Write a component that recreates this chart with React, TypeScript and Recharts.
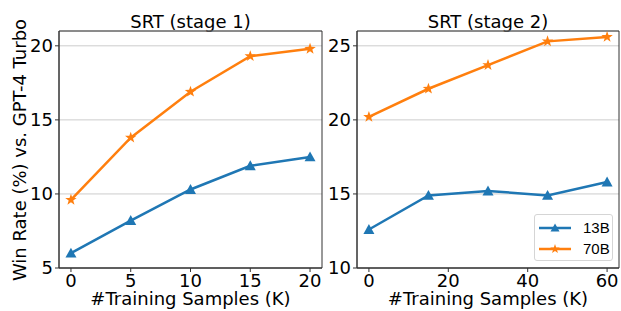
import {
  LineChart,
  Line,
  XAxis,
  YAxis,
  CartesianGrid,
  ReferenceArea,
  Legend,
  Label,
} from "recharts";

const stage1Samples = [0, 5, 10, 15, 20];
const stage1Win13B = [6.0, 8.2, 10.3, 11.9, 12.5];
const stage1Win70B = [9.6, 13.8, 16.9, 19.3, 19.8];

const stage2Samples = [0, 15, 30, 45, 60];
const stage2Win13B = [12.6, 14.9, 15.2, 14.9, 15.8];
const stage2Win70B = [20.2, 22.1, 23.7, 25.3, 25.6];

const stage1XTicks = [0, 5, 10, 15, 20];
const stage1YTicks = [5, 10, 15, 20];
const stage2XTicks = [0, 20, 40, 60];
const stage2YTicks = [10, 15, 20, 25];

const seriesNames = ["13B", "70B"];

const stage1Data = stage1Samples.map((k, i) => ({
  k,
  b13: stage1Win13B[i],
  b70: stage1Win70B[i],
}));
const stage2Data = stage2Samples.map((k, i) => ({
  k,
  b13: stage2Win13B[i],
  b70: stage2Win70B[i],
}));

const BLUE = "#1f77b4";
const ORANGE = "#ff7f0e";
const FONT = "'DejaVu Sans', sans-serif";

function trianglePoints(cx: number, cy: number, r = 5.5) {
  return `${cx},${cy - r} ${cx - r},${cy + r * 0.8} ${cx + r},${cy + r * 0.8}`;
}

function starPoints(cx: number, cy: number, R = 6, r = 2.4) {
  const pts: string[] = [];
  for (let i = 0; i < 10; i++) {
    const rad = i % 2 === 0 ? R : r;
    const a = -Math.PI / 2 + (i * Math.PI) / 5;
    pts.push(`${cx + rad * Math.cos(a)},${cy + rad * Math.sin(a)}`);
  }
  return pts.join(" ");
}

const TriangleDot = (props: any) => {
  const { cx, cy, index } = props;
  if (cx == null || cy == null) return null;
  return <polygon key={`t${index}`} points={trianglePoints(cx, cy)} fill={BLUE} />;
};

const StarDot = (props: any) => {
  const { cx, cy, index } = props;
  if (cx == null || cy == null) return null;
  return <polygon key={`s${index}`} points={starPoints(cx, cy)} fill={ORANGE} />;
};

function LegendBox() {
  const row = (name: string, color: string, star: boolean) => (
    <div key={name} style={{ display: "flex", alignItems: "center", height: 21 }}>
      <svg width={38} height={14} style={{ marginLeft: 3 }}>
        <line x1={1} y1={7} x2={33} y2={7} stroke={color} strokeWidth={2.5} />
        <polygon
          points={star ? starPoints(17, 7, 5, 2) : trianglePoints(17, 7, 4.5)}
          fill={color}
        />
      </svg>
      <span
        style={{
          fontFamily: "'Liberation Sans', Arial, sans-serif",
          fontSize: 15,
          marginLeft: 7,
          color: "#000",
        }}
      >
        {name}
      </span>
    </div>
  );
  return (
    <div
      style={{
        width: 77,
        height: 43,
        border: "1px solid #d5d5d5",
        borderRadius: 3,
        background: "rgba(255,255,255,0.85)",
        paddingTop: 2,
        boxSizing: "content-box",
      }}
    >
      {row(seriesNames[0], BLUE, false)}
      {row(seriesNames[1], ORANGE, true)}
    </div>
  );
}

const tickStyle = { fontSize: 18, fill: "#000", fontFamily: FONT };
const axisLine = { stroke: "#333", strokeWidth: 1 };

function XLabel() {
  return (
    <Label
      content={(p: any) => {
        const vb = p.viewBox;
        return (
          <text
            x={vb.x + vb.width / 2}
            y={305}
            textAnchor="middle"
            fontSize={18}
            fontFamily={FONT}
            fill="#000"
          >
            #Training Samples (K)
          </text>
        );
      }}
    />
  );
}

export default function App() {
  return (
    <div
      style={{
        position: "absolute",
        left: 0,
        top: 0,
        width: 621,
        height: 311,
        background: "#fff",
        fontFamily: FONT,
      }}
    >
      <div
        style={{
          position: "absolute",
          left: 59,
          width: 263,
          top: 10,
          fontSize: 18,
          lineHeight: "24px",
          textAlign: "center",
        }}
      >
        SRT (stage 1)
      </div>
      <div
        style={{
          position: "absolute",
          left: 357,
          width: 262,
          top: 10,
          fontSize: 18,
          lineHeight: "24px",
          textAlign: "center",
        }}
      >
        SRT (stage 2)
      </div>

      <div style={{ position: "absolute", left: 0, top: 0 }}>
        <LineChart
          width={328}
          height={311}
          data={stage1Data}
          margin={{ top: 31, right: 6, bottom: 0, left: 19 }}
        >
          <CartesianGrid vertical={false} stroke="#cccccc" strokeWidth={1} />
          <XAxis
            dataKey="k"
            type="number"
            domain={[-1, 21]}
            ticks={stage1XTicks}
            height={43}
            tickSize={4}
            tickMargin={2}
            tick={tickStyle}
            axisLine={axisLine}
            tickLine={axisLine}
          >
            {XLabel()}
          </XAxis>
          <YAxis
            type="number"
            domain={[5, 21]}
            ticks={stage1YTicks}
            width={40}
            tickSize={4}
            tickMargin={2}
            tick={tickStyle}
            axisLine={axisLine}
            tickLine={axisLine}
          >
            <Label
              content={() => (
                <text
                  x={-150}
                  y={26}
                  transform="rotate(-90)"
                  textAnchor="middle"
                  fontSize={18}
                  fontFamily={FONT}
                  fill="#000"
                >
                  Win Rate (%) vs. GPT-4 Turbo
                </text>
              )}
            />
          </YAxis>
          <ReferenceArea x1={-1} x2={21} y1={5} y2={21} fill="none" stroke="#333" strokeWidth={1} />
          <Line
            dataKey="b13"
            name={seriesNames[0]}
            stroke={BLUE}
            strokeWidth={2.5}
            dot={TriangleDot}
            isAnimationActive={false}
          />
          <Line
            dataKey="b70"
            name={seriesNames[1]}
            stroke={ORANGE}
            strokeWidth={2.5}
            dot={StarDot}
            isAnimationActive={false}
          />
        </LineChart>
      </div>

      <div style={{ position: "absolute", left: 328, top: 0 }}>
        <LineChart
          width={293}
          height={311}
          data={stage2Data}
          margin={{ top: 31, right: 2, bottom: 0, left: 0 }}
        >
          <CartesianGrid vertical={false} stroke="#cccccc" strokeWidth={1} />
          <XAxis
            dataKey="k"
            type="number"
            domain={[-3, 63]}
            ticks={stage2XTicks}
            height={43}
            tickSize={4}
            tickMargin={2}
            tick={tickStyle}
            axisLine={axisLine}
            tickLine={axisLine}
          >
            {XLabel()}
          </XAxis>
          <YAxis
            type="number"
            domain={[10, 26]}
            ticks={stage2YTicks}
            width={29}
            tickSize={4}
            tickMargin={2}
            tick={tickStyle}
            axisLine={axisLine}
            tickLine={axisLine}
          />
          <ReferenceArea x1={-3} x2={63} y1={10} y2={26} fill="none" stroke="#333" strokeWidth={1} />
          <Line
            dataKey="b13"
            name={seriesNames[0]}
            stroke={BLUE}
            strokeWidth={2.5}
            dot={TriangleDot}
            isAnimationActive={false}
          />
          <Line
            dataKey="b70"
            name={seriesNames[1]}
            stroke={ORANGE}
            strokeWidth={2.5}
            dot={StarDot}
            isAnimationActive={false}
          />
          <Legend
            layout="horizontal"
            verticalAlign="middle"
            align="center"
            wrapperStyle={{ position: "absolute", left: 206, top: 214, width: 79, height: 47 }}
            content={() => <LegendBox />}
          />
        </LineChart>
      </div>
    </div>
  );
}
